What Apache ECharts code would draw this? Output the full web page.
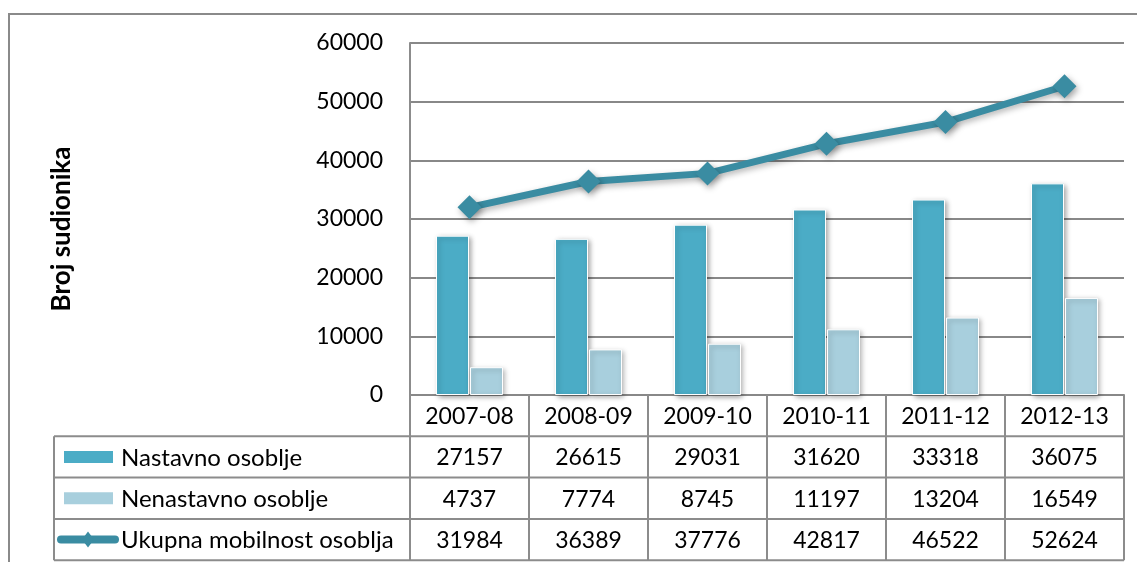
<!DOCTYPE html>
<html>
<head>
<meta charset="utf-8">
<style>
  html, body { margin: 0; padding: 0; background: #fff; }
  #chart { width: 1137px; height: 562px; }
</style>
<script src="https://cdn.jsdelivr.net/npm/echarts@6/dist/echarts.min.js"></script>
</head>
<body>
<div id="chart"></div>
<script>
// Academic years
const categories = ['2007-08', '2008-09', '2009-10', '2010-11', '2011-12', '2012-13'];
// Teaching staff mobility
const nastavno = [27157, 26615, 29031, 31620, 33318, 36075];
// Non-teaching staff mobility
const nenastavno = [4737, 7774, 8745, 11197, 13204, 16549];
// Total staff mobility
const ukupno = [31984, 36389, 37776, 42817, 46522, 52624];
const seriesNames = ['Nastavno osoblje', 'Nenastavno osoblje', 'Ukupna mobilnost osoblja'];
const yMin = 0, yMax = 60000, yStep = 10000;
const axisTitle = 'Broj sudionika';

const C_DARK = '#4BACC6';
const C_LIGHT = '#A8CFDD';
const C_LINE = '#3A8CA2';
const C_GRID = '#888888';
const FONT = 'Lato, "Open Sans", sans-serif';

const chart = echarts.init(document.getElementById('chart'), null, { renderer: 'canvas' });

const barShadow = {
  shadowColor: 'rgba(0,0,0,0.35)', shadowBlur: 5, shadowOffsetX: 2, shadowOffsetY: 2
};

chart.setOption({
  animation: false,
  backgroundColor: '#fff',
  grid: { left: 410, right: 13, top: 43, bottom: 167 },
  xAxis: {
    type: 'category',
    data: categories,
    axisLine: { show: true, lineStyle: { color: C_GRID, width: 2 } },
    axisTick: { show: false },
    axisLabel: { show: false },
    splitLine: { show: false }
  },
  yAxis: {
    type: 'value',
    min: yMin, max: yMax, interval: yStep,
    name: axisTitle,
    nameLocation: 'middle',
    nameGap: 335,
    nameTextStyle: { fontFamily: FONT, fontSize: 26, fontWeight: 'bold', color: '#000', padding: [0, 20, 0, 0] },
    axisLine: { show: true, lineStyle: { color: C_GRID, width: 2 } },
    axisTick: { show: false },
    axisLabel: { fontFamily: FONT, fontSize: 23, color: '#000', margin: 27, formatter: v => String(v) },
    splitLine: { lineStyle: { color: C_GRID, width: 2 } }
  },
  series: [
    {
      name: seriesNames[0], type: 'bar', data: nastavno,
      barWidth: 33, barGap: '3%',
      itemStyle: Object.assign({ color: C_DARK, borderColor: '#fff', borderWidth: 1 }, barShadow),
      z: 2
    },
    {
      name: seriesNames[1], type: 'bar', data: nenastavno,
      barWidth: 33,
      itemStyle: Object.assign({ color: C_LIGHT, borderColor: '#fff', borderWidth: 1 }, barShadow),
      z: 2
    },
    {
      name: seriesNames[2], type: 'line', data: ukupno,
      symbol: 'diamond', symbolSize: 24,
      lineStyle: { color: C_LINE, width: 7, shadowColor: 'rgba(0,0,0,0.3)', shadowBlur: 6, shadowOffsetY: 3 },
      itemStyle: { color: C_LINE, shadowColor: 'rgba(0,0,0,0.35)', shadowBlur: 6, shadowOffsetX: 2, shadowOffsetY: 3 },
      z: 5
    }
  ]
});

// Data table under the plot, aligned to the category axis
function buildTable() {
  const cx0 = chart.convertToPixel({ xAxisIndex: 0 }, categories[0]);
  const cx1 = chart.convertToPixel({ xAxisIndex: 0 }, categories[1]);
  const colW = cx1 - cx0;
  const left = cx0 - colW / 2;
  const right = left + colW * categories.length;
  const top = chart.convertToPixel({ yAxisIndex: 0 }, yMin);
  const plotTop = chart.convertToPixel({ yAxisIndex: 0 }, yMax);
  const rowH = 41.3;
  const legendLeft = 54;
  const rowsY = [top, top + rowH, top + 2 * rowH, top + 3 * rowH, top + 4 * rowH];
  const bottom = rowsY[4];
  const lineStyle = { stroke: '#8c8c8c', lineWidth: 2 };
  const els = [];

  // outer frame of the chart area
  els.push({ type: 'rect', shape: { x: 9, y: 14, width: 1200, height: 620 },
             style: { fill: 'none', stroke: '#8a8a8a', lineWidth: 2 }, z: 0 });

  // horizontal rules
  for (let r = 1; r < rowsY.length; r++) {
    els.push({ type: 'line', shape: { x1: legendLeft, y1: rowsY[r], x2: right, y2: rowsY[r] }, style: lineStyle, z: 1 });
  }
  // vertical rules
  els.push({ type: 'line', shape: { x1: legendLeft, y1: rowsY[1], x2: legendLeft, y2: bottom }, style: lineStyle, z: 1 });
  els.push({ type: 'line', shape: { x1: left, y1: plotTop, x2: left, y2: bottom }, style: lineStyle, z: 1 });
  for (let c = 1; c <= categories.length; c++) {
    const x = left + c * colW;
    els.push({ type: 'line', shape: { x1: x, y1: top, x2: x, y2: bottom }, style: lineStyle, z: 1 });
  }

  const textStyle = (text, x, y, align, size) => ({
    text, x, y, align: align || 'center', verticalAlign: 'middle',
    fontFamily: FONT, fontSize: size || 23, fill: '#000'
  });

  // header and values
  const rowsData = [nastavno, nenastavno, ukupno];
  categories.forEach((cat, i) => {
    const x = left + (i + 0.5) * colW;
    els.push({ type: 'text', style: textStyle(cat, x, (rowsY[0] + rowsY[1]) / 2 + 1), z: 3 });
    rowsData.forEach((arr, r) => {
      els.push({ type: 'text', style: textStyle(String(arr[i]), x, (rowsY[r + 1] + rowsY[r + 2]) / 2 + 1), z: 3 });
    });
  });

  // legend keys and series names
  const keyX = 64, keyW = 49;
  seriesNames.forEach((name, r) => {
    const yc = (rowsY[r + 1] + rowsY[r + 2]) / 2;
    if (r < 2) {
      els.push({ type: 'rect', shape: { x: keyX, y: yc - 6, width: keyW, height: 12 },
                 style: { fill: r === 0 ? C_DARK : C_LIGHT }, z: 3 });
    } else {
      els.push({ type: 'line', shape: { x1: 61, y1: yc, x2: 115, y2: yc },
                 style: { stroke: C_LINE, lineWidth: 8, lineCap: 'round' }, z: 3 });
      els.push({ type: 'polygon', shape: { points: [[88, yc - 8], [94, yc], [88, yc + 8], [82, yc]] },
                 style: { fill: C_LINE }, z: 3 });
    }
    els.push({ type: 'text', style: textStyle(name, 121, yc + 1, 'left', 24), z: 3 });
  });

  chart.setOption({ graphic: { elements: els } });
}

buildTable();
</script>
</body>
</html>
